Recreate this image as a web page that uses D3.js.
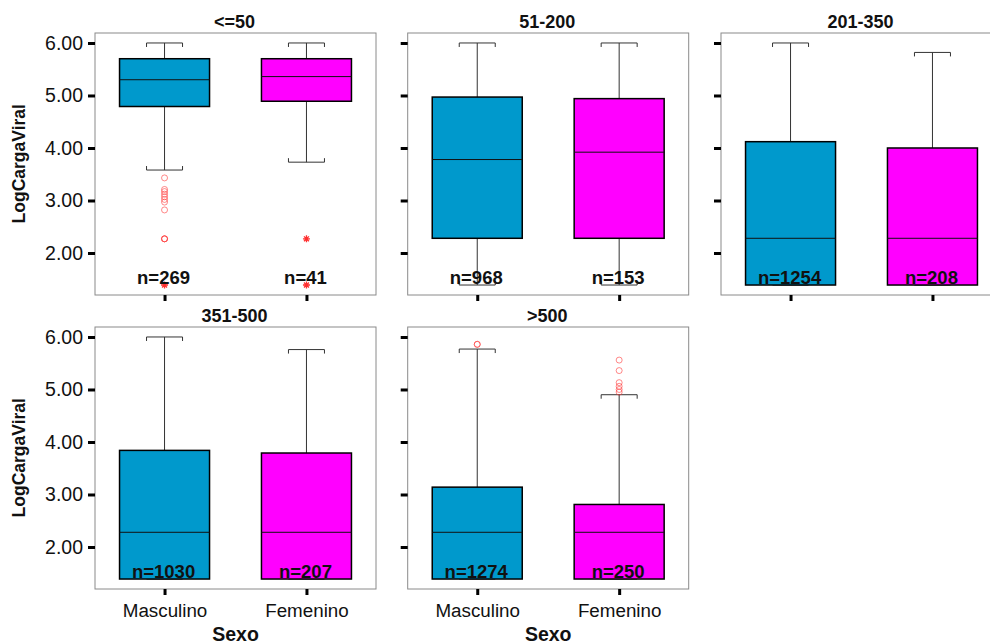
<!DOCTYPE html>
<html>
<head>
<meta charset="utf-8">
<script src="https://cdn.jsdelivr.net/npm/d3@7"></script>
<style>
  html, body { margin: 0; padding: 0; background: #fff; }
  svg { display: block; }
  text { font-family: "Liberation Sans", Arial, sans-serif; fill: #111; }
</style>
</head>
<body>
<svg id="chart" width="990" height="644"></svg>
<script>
// CD4 groups (one panel each) and sex categories on the x axis
const groups = ["<=50", "51-200", "201-350", "351-500", ">500"];
const sexes = ["Masculino", "Femenino"];

// Sample sizes per group
const nMasc = [269, 968, 1254, 1030, 1274];
const nFem  = [41, 153, 208, 207, 250];

// Box statistics per group (log10 viral load)
const loMasc  = [3.58, 1.39, 1.39, 1.39, 1.39];
const q1Masc  = [4.79, 2.28, 1.39, 1.39, 1.39];
const medMasc = [5.30, 3.78, 2.28, 2.28, 2.28];
const q3Masc  = [5.70, 4.97, 4.12, 3.84, 3.14];
const hiMasc  = [6.00, 6.00, 6.00, 6.00, 5.77];

const loFem  = [3.73, 1.39, 1.39, 1.39, 1.39];
const q1Fem  = [4.89, 2.28, 1.39, 1.39, 1.39];
const medFem = [5.36, 3.92, 2.28, 2.28, 2.28];
const q3Fem  = [5.70, 4.94, 4.00, 3.79, 2.81];
const hiFem  = [6.00, 6.00, 5.82, 5.76, 4.90];

// Outliers (circles) and extreme values (asterisks)
const outMasc = [[3.43, 3.21, 3.17, 3.12, 3.07, 3.02, 2.97, 2.82, 2.27, 2.27, 2.27], [], [], [], [5.86, 5.86]];
const outFem  = [[], [], [], [], [5.56, 5.36, 5.13, 5.06, 5.00, 4.95]];
const extMasc = [[1.39], [], [], [], []];
const extFem  = [[2.27, 1.39], [], [], [], []];

// Axis ticks
const yTicks = [2, 3, 4, 5, 6];
const yDomain = [1.2, 6.19];
const nLabelAt = 1.39;

const colors = { Masculino: "#0099cc", Femenino: "#ff00ff" };

const svg = d3.select("#chart");
const panelW = 281, panelH = 262;
const colX = [95, 407.7, 721];
const rowY = [33, 327];
const boxW = 90, capW = 36, capTick = 4;

const y = d3.scaleLinear().domain(yDomain).range([panelH, 0]);
const x = d3.scalePoint().domain(sexes).range([0, panelW]).padding(0.49);

function star(g, cx, cy) {
  const r = 3.5;
  const p = d3.path();
  for (let k = 0; k < 4; k++) {
    const a = k * Math.PI / 4;
    p.moveTo(cx - r * Math.cos(a), cy - r * Math.sin(a));
    p.lineTo(cx + r * Math.cos(a), cy + r * Math.sin(a));
  }
  g.append("path").attr("d", p.toString())
    .attr("stroke", "#ff3030").attr("stroke-width", 1.3).attr("fill", "none");
}

groups.forEach((grp, i) => {
  const row = i < 3 ? 0 : 1;
  const col = i < 3 ? i : i - 3;
  const g = svg.append("g").attr("transform", `translate(${colX[col]},${rowY[row]})`);

  // panel frame
  g.append("rect").attr("x", 0).attr("y", 0).attr("width", panelW).attr("height", panelH)
    .attr("fill", "none").attr("stroke", "#8a8a8a").attr("stroke-width", 1);

  // title
  g.append("text").attr("x", panelW / 2 - 1).attr("y", -5.5).attr("text-anchor", "middle")
    .attr("font-size", 18).attr("font-weight", "bold").text(grp);

  // left axis ticks
  const yAxis = d3.axisLeft(y).tickValues(yTicks).tickSize(7).tickPadding(5)
    .tickFormat(col === 0 ? d3.format(".2f") : () => "");
  const ya = g.append("g").call(yAxis);
  ya.select(".domain").remove();
  ya.selectAll(".tick line").attr("stroke", "#000").attr("stroke-width", 3);
  ya.selectAll(".tick text").attr("font-size", 19.5).attr("fill", "#111")
    .style("font-family", "'Liberation Sans', Arial, sans-serif");

  // bottom axis ticks
  const xAxis = d3.axisBottom(x).tickSize(6).tickPadding(9)
    .tickFormat(row === 1 ? (d => d) : () => "");
  const xa = g.append("g").attr("transform", `translate(0,${panelH})`).call(xAxis);
  xa.select(".domain").remove();
  xa.selectAll(".tick line").attr("stroke", "#000").attr("stroke-width", 3);
  xa.selectAll(".tick text").attr("font-size", 18.8).attr("fill", "#111")
    .style("font-family", "'Liberation Sans', Arial, sans-serif");

  if (row === 1) {
    g.append("text").attr("x", panelW / 2).attr("y", panelH + 52).attr("text-anchor", "middle")
      .attr("font-size", 19.5).attr("font-weight", "bold").text("Sexo");
  }
  if (col === 0) {
    g.append("text")
      .attr("transform", `translate(${-70},${y(3.7)}) rotate(-90)`)
      .attr("text-anchor", "middle").attr("font-size", 17.5).attr("font-weight", "bold")
      .text("LogCargaViral");
  }

  const stats = [
    { sex: "Masculino", lo: loMasc[i], q1: q1Masc[i], med: medMasc[i], q3: q3Masc[i], hi: hiMasc[i], n: nMasc[i], out: outMasc[i], ext: extMasc[i] },
    { sex: "Femenino",  lo: loFem[i],  q1: q1Fem[i],  med: medFem[i],  q3: q3Fem[i],  hi: hiFem[i],  n: nFem[i],  out: outFem[i],  ext: extFem[i] }
  ];

  stats.forEach(s => {
    const cx = x(s.sex);
    const wc = "#333";
    // whiskers
    g.append("line").attr("x1", cx).attr("x2", cx).attr("y1", y(s.hi)).attr("y2", y(s.q3))
      .attr("stroke", wc).attr("stroke-width", 1);
    g.append("line").attr("x1", cx).attr("x2", cx).attr("y1", y(s.q1)).attr("y2", y(s.lo))
      .attr("stroke", wc).attr("stroke-width", 1);
    // bracket caps, ends pointing toward the box
    const top = y(s.hi), bot = y(s.lo);
    g.append("path")
      .attr("d", `M${cx - capW / 2},${top + capTick}V${top}H${cx + capW / 2}V${top + capTick}`)
      .attr("fill", "none").attr("stroke", wc).attr("stroke-width", 1);
    g.append("path")
      .attr("d", `M${cx - capW / 2},${bot - capTick}V${bot}H${cx + capW / 2}V${bot - capTick}`)
      .attr("fill", "none").attr("stroke", wc).attr("stroke-width", 1);
    // box
    g.append("rect").attr("x", cx - boxW / 2).attr("y", y(s.q3))
      .attr("width", boxW).attr("height", y(s.q1) - y(s.q3))
      .attr("fill", colors[s.sex]).attr("stroke", "#000").attr("stroke-width", 1.5);
    // median
    g.append("line").attr("x1", cx - boxW / 2).attr("x2", cx + boxW / 2)
      .attr("y1", y(s.med)).attr("y2", y(s.med)).attr("stroke", "#111").attr("stroke-width", 1);
    // outliers
    s.out.forEach(v => {
      g.append("circle").attr("cx", cx).attr("cy", y(v)).attr("r", 3)
        .attr("fill", "none").attr("stroke", "rgba(255,60,60,0.6)").attr("stroke-width", 1);
    });
    s.ext.forEach(v => star(g, cx, y(v)));
    // sample size label
    g.append("text")
      .attr("x", cx - 1).attr("y", y(nLabelAt) - 1.5)
      .attr("text-anchor", "middle").attr("font-size", 18.5).attr("font-weight", "bold")
      .attr("fill", "#000")
      .text("n=" + s.n);
  });
});
</script>
</body>
</html>
